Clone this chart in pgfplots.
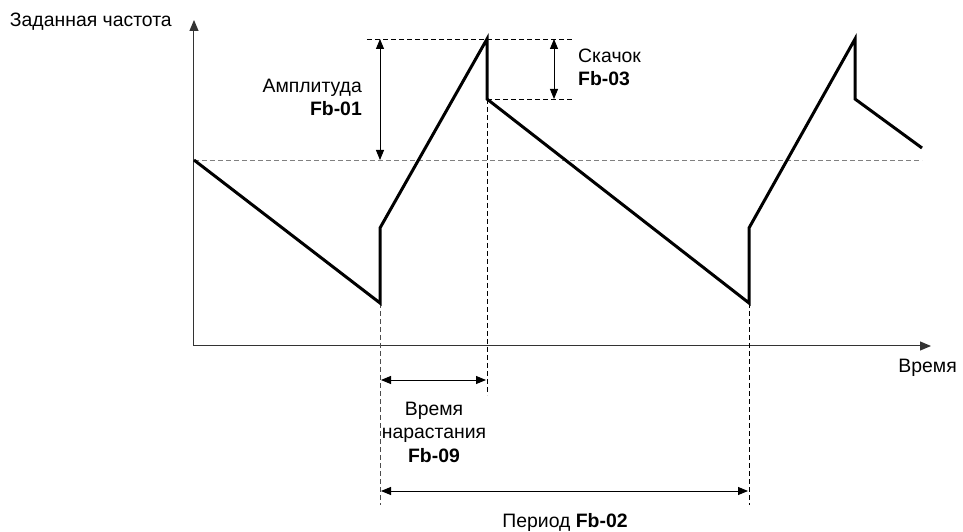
\documentclass[border=0pt]{standalone}
\usepackage{pgfplots}
\pgfplotsset{compat=1.18}
\usepackage{fontspec}
\setmainfont{Liberation Sans}
\usetikzlibrary{arrows.meta}
\begin{document}
\fontsize{19.4}{23}\selectfont
\begin{tikzpicture}
\begin{axis}[x=1pt, y=1pt, xmin=0, xmax=737, ymin=0, ymax=326,
  axis lines=none, ticks=none, clip=false,
  every axis plot/.append style={mark=none}]
% invisible bounding frame
\path (axis cs:-194,-184) rectangle (axis cs:769,346);
% axes with arrows
\addplot[black!80, line width=1pt, -{Triangle[length=11pt,width=9pt]}] coordinates {(0,0) (737,0)};
\addplot[black!80, line width=1pt, -{Triangle[length=11pt,width=9pt]}] coordinates {(0,0) (0,326)};
% reference dashed lines
\addplot[gray, line width=0.9pt, dash pattern=on 5pt off 3pt] coordinates {(0,186) (728,186)};
\addplot[black, line width=0.8pt, dash pattern=on 5pt off 3pt] coordinates {(173,307) (379,307)};
\addplot[black, line width=0.8pt, dash pattern=on 5pt off 3pt] coordinates {(293,247) (379,247)};
\addplot[black!70, line width=0.8pt, dash pattern=on 5pt off 3pt] coordinates {(186,43) (186,-159)};
\addplot[black, line width=0.8pt, dash pattern=on 5pt off 3pt] coordinates {(293,247) (293,-49)};
\addplot[black, line width=0.8pt, dash pattern=on 5pt off 3pt] coordinates {(555,43) (555,-159)};
% waveform
\addplot[black, line width=3pt, line join=miter, line cap=butt] coordinates {
(0,186) (186,43) (186,118) (293,307) (293,247) (555,43) (555,118) (661,307) (661,247) (728,198)};
% dimension arrows
\addplot[black, line width=0.9pt, {Triangle[length=10pt,width=8pt]}-{Triangle[length=10pt,width=8pt]}] coordinates {(186,307) (186,186)};
\addplot[black, line width=0.9pt, {Triangle[length=10pt,width=8pt]}-{Triangle[length=10pt,width=8pt]}] coordinates {(360,307) (360,247)};
\addplot[black, line width=0.9pt, {Triangle[length=10pt,width=8pt]}-{Triangle[length=10pt,width=8pt]}] coordinates {(187,-34) (292,-34)};
\addplot[black, line width=0.9pt, {Triangle[length=10pt,width=8pt]}-{Triangle[length=10pt,width=8pt]}] coordinates {(187,-145) (554,-145)};
% texts
\node[anchor=base east, inner sep=0pt] at (axis cs:-22,319) {Заданная частота};
\node[anchor=base east, inner sep=0pt] at (axis cs:168,253) {Амплитуда};
\node[anchor=base east, inner sep=0pt] at (axis cs:168,230) {\bfseries Fb-01};
\node[anchor=base west, inner sep=0pt] at (axis cs:384,283) {Скачок};
\node[anchor=base west, inner sep=0pt] at (axis cs:384,260) {\bfseries Fb-03};
\node[anchor=base east, inner sep=0pt] at (axis cs:763,-27) {Время};
\node[anchor=base, inner sep=0pt] at (axis cs:240,-69) {Время};
\node[anchor=base, inner sep=0pt] at (axis cs:240,-92) {нарастания};
\node[anchor=base, inner sep=0pt] at (axis cs:240,-116) {\bfseries Fb-09};
\node[anchor=base, inner sep=0pt] at (axis cs:371,-181) {Период \bfseries Fb-02};
\end{axis}
\end{tikzpicture}
\end{document}
